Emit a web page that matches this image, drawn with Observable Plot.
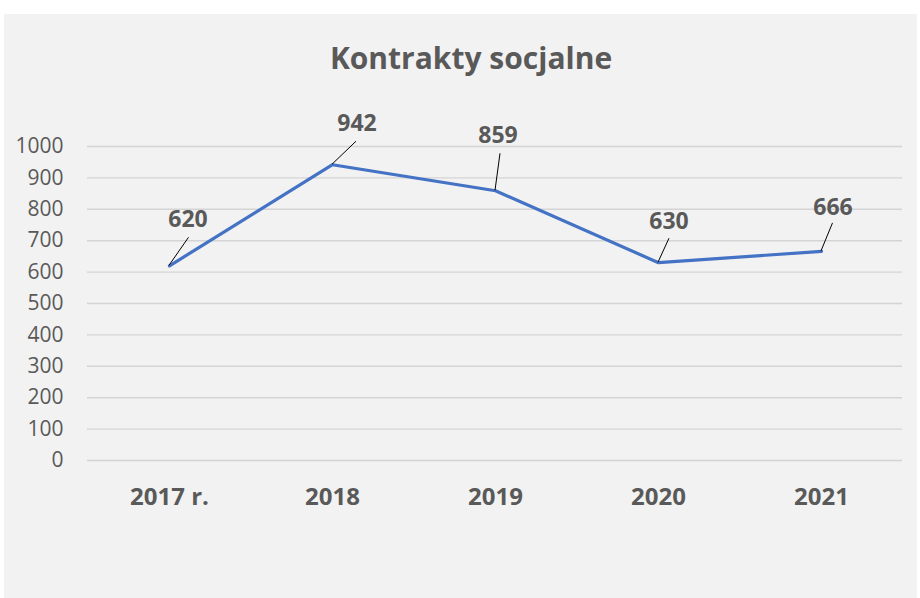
<!DOCTYPE html>
<html><head><meta charset="utf-8">
<script src="https://cdn.jsdelivr.net/npm/d3@7"></script>
<script src="https://cdn.jsdelivr.net/npm/@observablehq/plot@0.6"></script>
<style>
body{margin:0;background:#fff;width:920px;height:598px;overflow:hidden;position:relative;font-family:"Open Sans",sans-serif}
#panel{position:absolute;left:4px;top:14px;width:913px;height:584px;background:#f2f2f2}
#title{position:absolute;left:0;top:43px;width:942px;text-align:center;font-weight:bold;font-size:30px;color:#595959;line-height:1;white-space:nowrap}
#chart{position:absolute;left:0;top:0}
</style></head><body>
<div id="panel"></div><div id="title">Kontrakty socjalne</div><div id="chart"></div>
<script>
const categories = ["2017 r.", "2018", "2019", "2020", "2021"];
const values = [620, 942, 859, 630, 666];
const yTicks = [0, 100, 200, 300, 400, 500, 600, 700, 800, 900, 1000];

// layout: label centre offset and leader-line end offset, in pixels from each point
const labelLayout = [
  {lx: 19, ly: -47, ex: 19.5, ey: -28},
  {lx: 25, ly: -42, ex: 24, ey: -23},
  {lx: 3, ly: -56, ex: 5, ey: -37},
  {lx: 11, ly: -42, ex: 11, ey: -24},
  {lx: 12, ly: -45, ex: 11.5, ey: -28}
];

const data = categories.map((c, i) => ({cat: c, value: values[i]}));

const labelsMark = (index, scales) => {
  const g = d3.create("svg:g");
  data.forEach((d, i) => {
    const px = scales.x(d.cat), py = scales.y(d.value);
    const L = labelLayout[i];
    g.append("line")
      .attr("x1", px).attr("y1", py)
      .attr("x2", px + L.ex).attr("y2", py + L.ey)
      .attr("stroke", "#000").attr("stroke-width", 1);
    g.append("text")
      .attr("x", px + L.lx).attr("y", py + L.ly)
      .attr("text-anchor", "middle").attr("dominant-baseline", "central")
      .attr("font-size", 23).attr("font-weight", "bold").attr("fill", "#595959")
      .attr("font-family", "Open Sans")
      .text(d.value);
  });
  return g.node();
};

const chart = Plot.plot({
  width: 920,
  height: 598,
  marginLeft: 87,
  marginRight: 18,
  marginTop: 146,
  marginBottom: 138,
  style: {background: "transparent", fontFamily: "Open Sans", color: "#595959"},
  x: {type: "point", domain: categories, padding: 0.5},
  y: {domain: [0, 1000]},
  marks: [
    Plot.gridY(yTicks, {stroke: "#d4d4d4", strokeOpacity: 1, strokeWidth: 1.4}),
    Plot.axisY(yTicks, {tickSize: 0, tickPadding: 24, fontSize: 21, fill: "#595959", label: null, tickFormat: d => String(d)}),
    Plot.axisX({tickSize: 0, tickPadding: 27, fontSize: 24, fontWeight: "bold", fill: "#595959", label: null}),
    Plot.line(data, {x: "cat", y: "value", stroke: "#4472c4", strokeWidth: 3.2, strokeLinejoin: "miter"}),
    labelsMark
  ]
});
document.getElementById("chart").appendChild(chart);
</script>
</body></html>
